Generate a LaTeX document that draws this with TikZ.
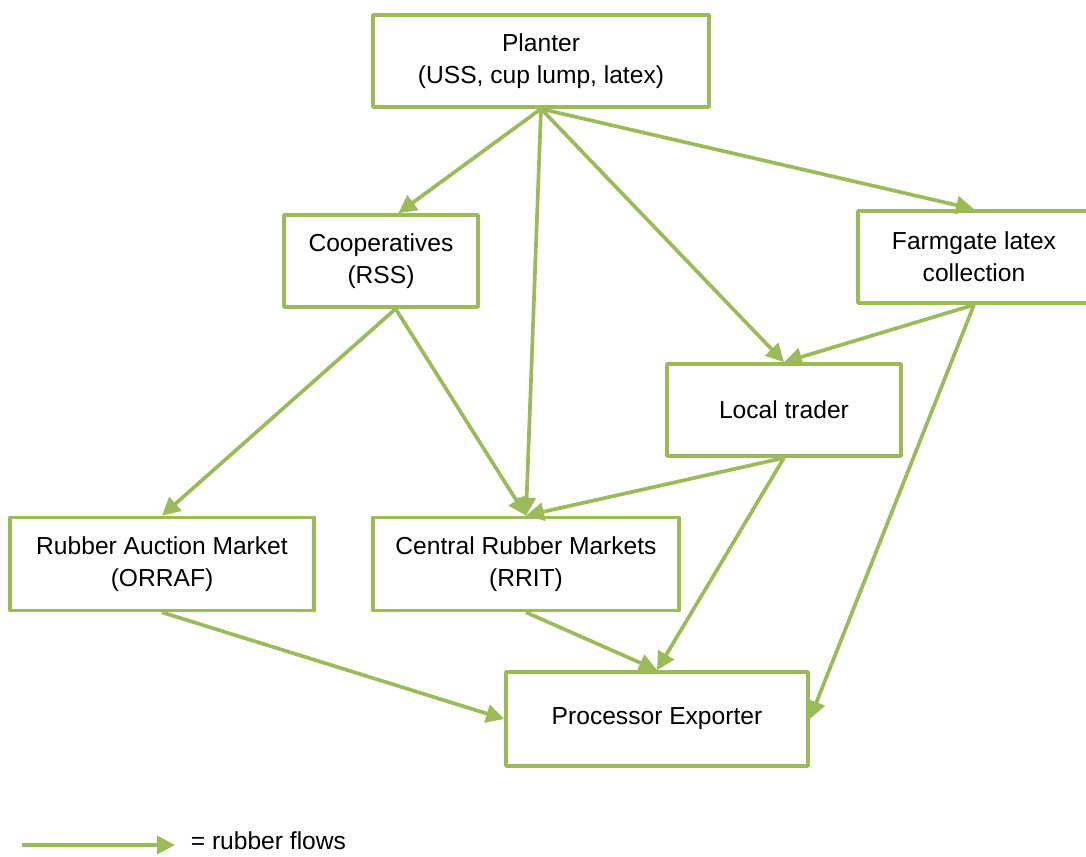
\documentclass[tikz,border=0pt]{standalone}
\usepackage{fontspec}
\setmainfont{Liberation Sans}
\usetikzlibrary{arrows.meta}
\definecolor{flowgreen}{RGB}{155,187,89}
\begin{document}
\begin{tikzpicture}[x=0.02cm,y=-0.02cm,line join=round,
  >={Triangle[length=0.36cm,width=0.36cm]},
  font=\fontsize{14}{18}\selectfont,
  box/.style={draw=flowgreen,line width=2.1pt,fill=white,align=center,inner sep=0pt},
  flow/.style={->,draw=flowgreen,fill=flowgreen,line width=2.1pt}]
\useasboundingbox (0,0) rectangle (1086,856);
\path
(541,61) coordinate (P)
(381,261) coordinate (C)
(974,257) coordinate (F)
(784,410) coordinate (L)
(162,564) coordinate (A)
(526,564) coordinate (R)
(657,719) coordinate (E)
(22,845) coordinate (K1)
(175,845) coordinate (K2)
;
\node[box,minimum width=6.72cm,minimum height=1.84cm] (planter) at (P) {Planter\\(USS, cup lump, latex)};
\node[box,minimum width=3.88cm,minimum height=1.84cm] (coop) at (C) {Cooperatives\\(RSS)};
\node[box,minimum width=4.64cm,minimum height=1.84cm] (farm) at (F) {Farmgate latex\\collection};
\node[box,minimum width=4.68cm,minimum height=1.84cm] (local) at (L) {Local trader};
\node[box,minimum width=6.08cm,minimum height=1.86cm] (auction) at (A) {Rubber Auction Market\\(ORRAF)};
\node[box,minimum width=6.12cm,minimum height=1.86cm] (central) at (R) {Central Rubber Markets\\(RRIT)};
\node[box,minimum width=6.04cm,minimum height=1.88cm] (proc) at (E) {Processor Exporter};
\draw[flow] (planter.south) -- (coop.70);
\draw[flow] (planter.south) -- (central.north);
\draw[flow] (planter.south) -- (local.north);
\draw[flow] (planter.south) -- (farm.north);
\draw[flow] (coop.-73) -- (auction.north);
\draw[flow] (coop.-73) -- (central.north);
\draw[flow] (farm.south) -- (local.north);
\draw[flow] (farm.south) -- (proc.east);
\draw[flow] (local.south) -- (central.north);
\draw[flow] (local.south) -- (proc.north);
\draw[flow] (auction.south) -- (proc.west);
\draw[flow] (central.south) -- (proc.north);
\draw[flow] (K1) -- (K2) node[right=0.28cm,yshift=0.08cm,inner sep=0pt,text=black] (legend) {= rubber flows};
\end{tikzpicture}
\end{document}
